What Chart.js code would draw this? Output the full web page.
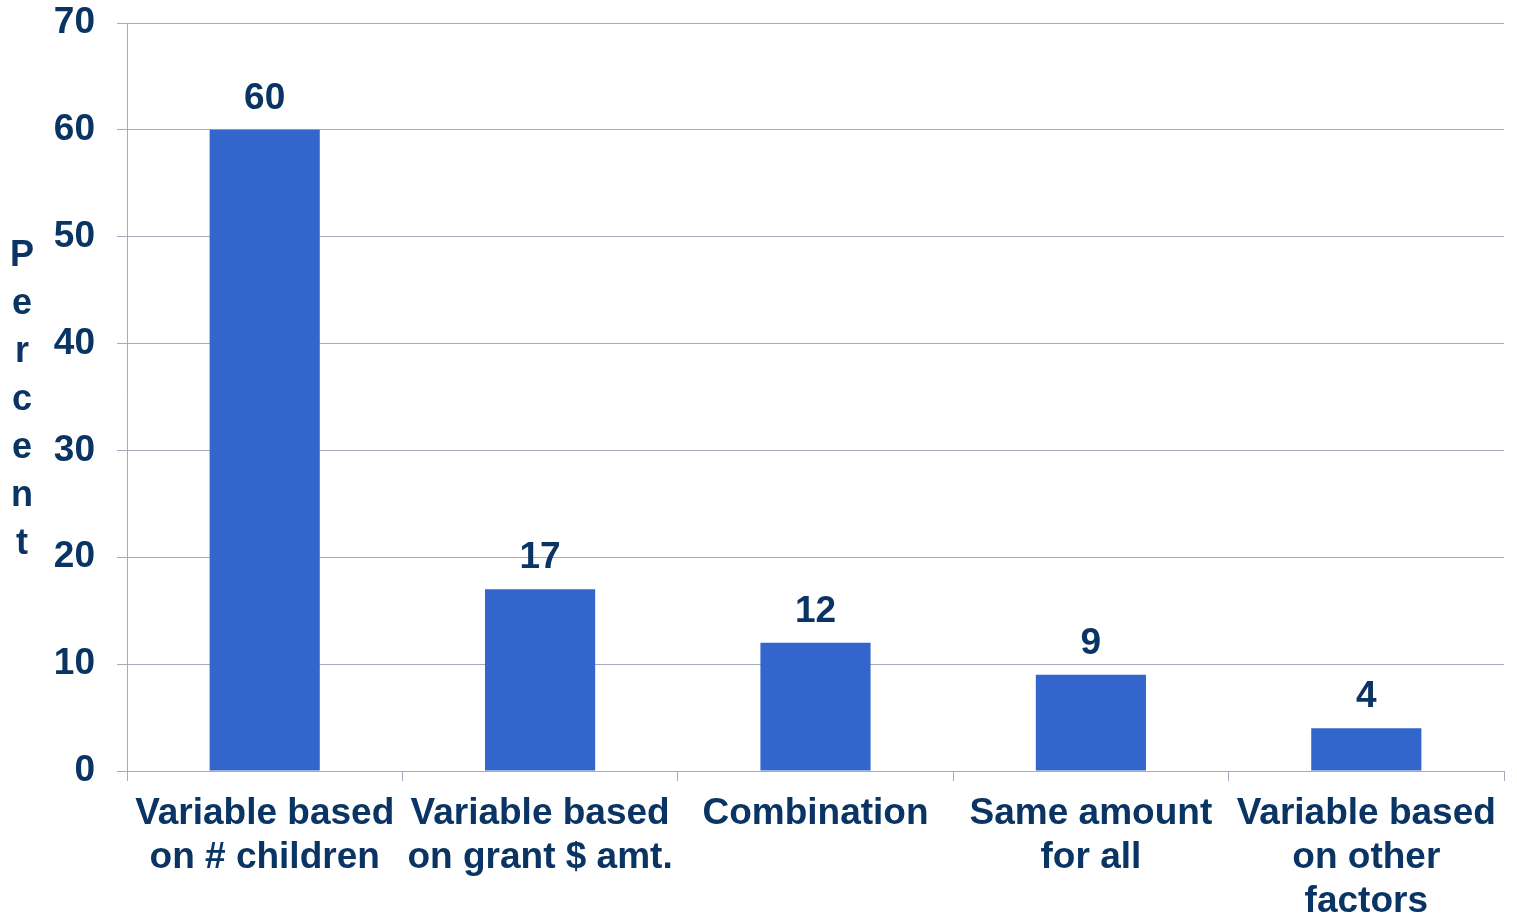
<!DOCTYPE html>
<html>
<head>
<meta charset="utf-8">
<script src="https://cdn.jsdelivr.net/npm/chart.js@4.4.0/dist/chart.umd.min.js"></script>
<style>
  body { margin: 0; background: #fff; }
  #wrap { width: 1517px; height: 915px; position: relative; }
</style>
</head>
<body>
<div id="wrap"><canvas id="grafico"></canvas></div>
<script>
// dados do grafico
const categorias = [
  ['Variable based', 'on # children'],
  ['Variable based', 'on grant $ amt.'],
  ['Combination'],
  ['Same amount', 'for all'],
  ['Variable based', 'on other', 'factors']
];
const percentuais = [60, 17, 12, 9, 4];
const tituloY = 'Percent';

const corTexto = '#0A3463';
const corGrade = '#A7AABD';
const fonte = 'Liberation Sans, Arial, sans-serif';

// valores acima das barras
const rotulos = {
  id: 'rotulos',
  afterDatasetsDraw(chart) {
    const c = chart.ctx;
    const meta = chart.getDatasetMeta(0);
    c.save();
    c.fillStyle = corTexto;
    c.font = 'bold 37px ' + fonte;
    c.textAlign = 'center';
    c.textBaseline = 'alphabetic';
    meta.data.forEach((bar, i) => {
      c.fillText(String(percentuais[i]), bar.x, bar.y - 21);
    });
    c.restore();
  }
};

// titulo do eixo Y com letras empilhadas
const tituloEmpilhado = {
  id: 'tituloEmpilhado',
  afterDraw(chart) {
    const c = chart.ctx;
    c.save();
    c.fillStyle = corTexto;
    c.font = 'bold 36px ' + fonte;
    c.textAlign = 'center';
    c.textBaseline = 'middle';
    tituloY.split('').forEach((letra, i) => {
      c.fillText(letra, 22, 256 + i * 48);
    });
    c.restore();
  }
};

const ctx = document.getElementById('grafico').getContext('2d');

new Chart(ctx, {
  type: 'bar',
  data: {
    labels: categorias,
    datasets: [{
      data: percentuais,
      backgroundColor: '#3366CC',
      borderWidth: 0,
      barPercentage: 0.8,
      categoryPercentage: 0.5
    }]
  },
  options: {
    responsive: true,
    maintainAspectRatio: false,
    animation: false,
    layout: { padding: { top: 0, right: 13, left: 0, bottom: 0 } },
    plugins: {
      legend: false,
      tooltip: { enabled: false }
    },
    scales: {
      x: {
        afterFit(scale) { scale.height = 144; },
        grid: {
          drawOnChartArea: false,
          drawTicks: true,
          tickLength: 10,
          color: corGrade,
          offset: true
        },
        border: { color: corGrade, width: 1 },
        ticks: {
          color: corTexto,
          font: { family: fonte, size: 37, weight: 'bold', lineHeight: 1.19 },
          padding: 11,
          maxRotation: 0,
          autoSkip: false
        }
      },
      y: {
        min: 0,
        max: 70,
        afterFit(scale) {
          scale.width = 127;
          scale.paddingTop = 23;
          scale.paddingBottom = 0;
        },
        grid: {
          color: corGrade,
          lineWidth: 1,
          drawTicks: true,
          tickLength: 10
        },
        border: { color: corGrade, width: 1 },
        ticks: {
          stepSize: 10,
          color: corTexto,
          font: { family: fonte, size: 37, weight: 'bold' },
          padding: 22
        }
      }
    }
  },
  plugins: [rotulos, tituloEmpilhado]
});
</script>
</body>
</html>
